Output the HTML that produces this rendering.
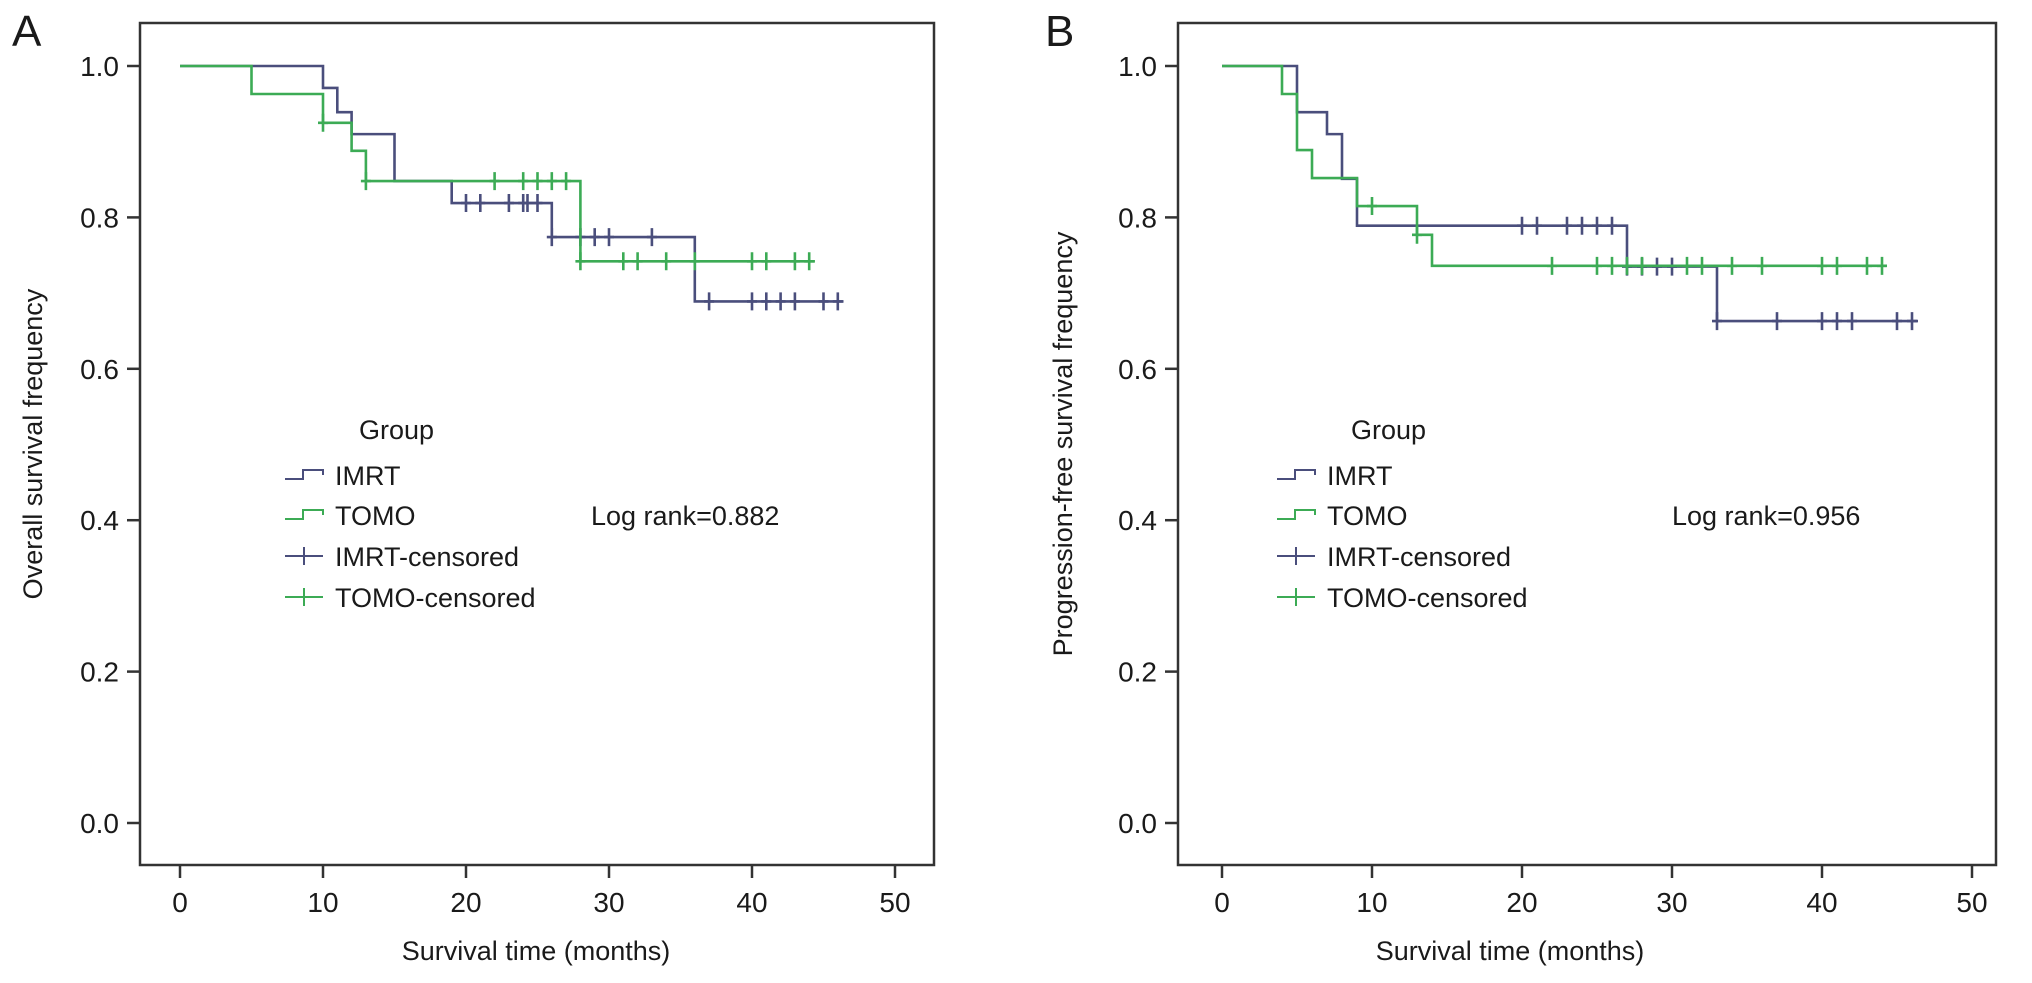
<!DOCTYPE html>
<html><head><meta charset="utf-8"><style>
html,body{margin:0;padding:0;background:#fff;}
svg text{font-family:"Liberation Sans",sans-serif;fill:#1a1a1a;}
</style></head><body>
<svg id="chart" width="2032" height="978" viewBox="0 0 2032 978" xmlns="http://www.w3.org/2000/svg"></svg>
<script>
// ---- Panel A data ----
const aImrtTimes=[0,10,11,12,15,19,26,36];
const aImrtSurv=[1,0.971,0.939,0.910,0.848,0.819,0.774,0.689];
const aImrtEnd=46.4;
const aImrtCens=[20,21,23,24,24.3,25,26,28,29,30,33,37,40,41,42,43,45,46];
const aTomoTimes=[0,5,10,12,13,28];
const aTomoSurv=[1,0.963,0.925,0.888,0.848,0.742];
const aTomoEnd=44.4;
const aTomoCens=[10,13,22,24,25,26,27,28,31,32,34,36,40,41,43,44];
// ---- Panel B data ----
const bImrtTimes=[0,5,7,8,9,27,33];
const bImrtSurv=[1,0.939,0.910,0.851,0.789,0.735,0.663];
const bImrtEnd=46.4;
const bImrtCens=[20,21,23,24,25,26,27,28,29,30,33,37,40,41,42,45,46];
const bTomoTimes=[0,4,5,6,9,13,14];
const bTomoSurv=[1,0.963,0.889,0.852,0.815,0.777,0.736];
const bTomoEnd=44.3;
const bTomoCens=[10,13,22,25,26,27,28,31,32,34,36,40,41,43,44];
const xTicks=[0,10,20,30,40,50];
const yTicks=[0,0.2,0.4,0.6,0.8,1.0];

const NS="http://www.w3.org/2000/svg";
const svg=document.getElementById('chart');
function mk(tag,attrs,parent){const e=document.createElementNS(NS,tag);for(const k in attrs)e.setAttribute(k,attrs[k]);(parent||svg).appendChild(e);return e;}
const IMRT="#4a4e7c",TOMO="#3cab55";

function panel(cfg){
  const g=mk('g',{});
  
  
  const xs=t=>cfg.x0+t*cfg.xs;
  const ys=v=>823-v*757;
  const fr=mk('rect',{x:cfg.fl,y:23,width:cfg.fr-cfg.fl,height:842,fill:'none',stroke:'#333',"stroke-width":2.5},g);
  
  
  yTicks.forEach(v=>{
    mk('line',{x1:cfg.fl-13,x2:cfg.fl,y1:ys(v),y2:ys(v),stroke:'#333',"stroke-width":2.5},g);
    const t=mk('text',{x:cfg.fl-21,y:ys(v)+10,"text-anchor":'end',"font-size":28},g);
    t.textContent=v.toFixed(1);
    
    
  });
  xTicks.forEach(v=>{
    mk('line',{x1:xs(v),x2:xs(v),y1:865,y2:878,stroke:'#333',"stroke-width":2.5},g);
    const t=mk('text',{x:xs(v),y:912,"text-anchor":'middle',"font-size":28},g);
    t.textContent=v;
    
    
  });
  const xt=mk('text',{x:cfg.xtx,y:960,"text-anchor":'middle',"font-size":27},g);
  xt.textContent='Survival time (months)';
  
  
  const yt=mk('text',{x:0,y:0,"text-anchor":'middle',"font-size":27,transform:`translate(${cfg.ytx},444) rotate(-90)`},g);
  yt.textContent=cfg.ytitle;
  
  
  const pl=mk('text',{x:cfg.plx,y:46,"font-size":44},g);
  pl.textContent=cfg.label;
  
  
  function series(times,surv,end,cens,color,nm){
    let d=`M${xs(times[0])},${ys(surv[0])}`;
    for(let i=1;i<times.length;i++){d+=` H${xs(times[i])} V${ys(surv[i])}`;}
    d+=` H${xs(end)}`;
    const p=mk('path',{d:d,fill:'none',stroke:color,"stroke-width":2.6},g);
    
    
    cens.forEach(c=>{
      let v=surv[0];for(let i=0;i<times.length;i++){if(times[i]<=c)v=surv[i];}
      const m=mk('path',{d:`M${xs(c)},${ys(v)-9} V${ys(v)+9} M${xs(c)-5},${ys(v)} H${xs(c)+5}`,stroke:color,"stroke-width":2.6,fill:'none'},g);
      
      
    });
  }
  series(cfg.imrt[0],cfg.imrt[1],cfg.imrt[2],cfg.imrt[3],IMRT,'imrt');
  series(cfg.tomo[0],cfg.tomo[1],cfg.tomo[2],cfg.tomo[3],TOMO,'tomo');
  const lg=mk('g',{},g);
  
  
  const L=cfg.lx;
  const gt=mk('text',{x:L+74,y:439,"font-size":27},lg);gt.textContent='Group';
  
  
  const rows=[['IMRT',IMRT,'step',475],['TOMO',TOMO,'step',515],['IMRT-censored',IMRT,'cross',556],['TOMO-censored',TOMO,'cross',597]];
  rows.forEach(r=>{
    const y=r[3];
    if(r[2]==='step'){
      mk('path',{d:`M${L},${y+4} H${L+18} V${y-5} H${L+38} V${y}`,fill:'none',stroke:r[1],"stroke-width":2},lg);
    }else{
      mk('path',{d:`M${L},${y} H${L+38} M${L+19},${y-9} V${y+9}`,fill:'none',stroke:r[1],"stroke-width":2},lg);
    }
    const t=mk('text',{x:L+50,y:y+10,"font-size":27},lg);
    t.textContent=r[0];
    
    
  });
  const lr=mk('text',{x:cfg.lrx,y:525,"font-size":27},g);
  lr.textContent=cfg.logrank;
  
  
}
panel({name:'panel-a',label:'A',plx:12,fl:140,fr:934,x0:180,xs:14.3,xtx:536,ytx:42,ytitle:'Overall survival frequency',
  imrt:[aImrtTimes,aImrtSurv,aImrtEnd,aImrtCens],tomo:[aTomoTimes,aTomoSurv,aTomoEnd,aTomoCens],lx:285,lrx:591,logrank:'Log rank=0.882'});
panel({name:'panel-b',label:'B',plx:1045,fl:1178,fr:1996,x0:1222,xs:15.0,xtx:1510,ytx:1072,ytitle:'Progression-free survival frequency',
  imrt:[bImrtTimes,bImrtSurv,bImrtEnd,bImrtCens],tomo:[bTomoTimes,bTomoSurv,bTomoEnd,bTomoCens],lx:1277,lrx:1672,logrank:'Log rank=0.956'});
</script>
</body></html>
